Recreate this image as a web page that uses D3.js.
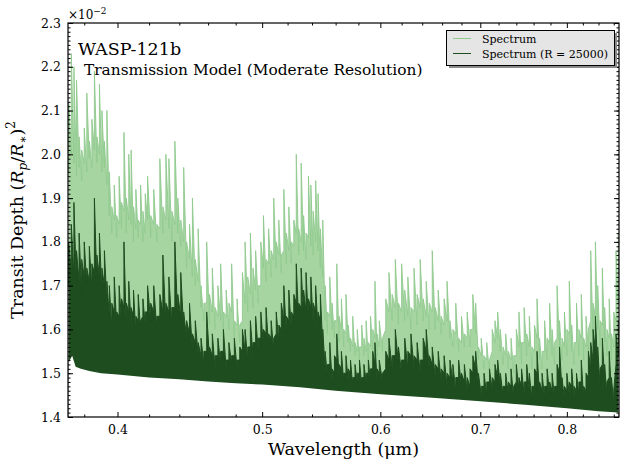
<!DOCTYPE html>
<html>
<head>
<meta charset="utf-8">
<script src="https://cdn.jsdelivr.net/npm/d3@7"></script>
<style>
  body { margin: 0; background: #fff; }
  svg { display: block; }
  text { font-family: "DejaVu Serif", serif; }
</style>
</head>
<body>
<svg id="chart" width="627" height="467"></svg>
<script>
// wavelength bins (nm)
var wl = [371,372.5,374,375.5,377,378.5,380,381.5,383,384.5,386,387.5,389,390.5,392,393.5,395,396.5,398,399.5,401,402.5,404,405.5,407,408.5,410,411.5,413,414.5,416,417.5,419,
  421,423,425,427,429,431,433,435,437,439,441,443,445,447,449,451,453,455,457,459,461,463,465,467,469,471,473,475,477,479,481,483,485,487,489,491,493,495,497,499,501,503,505,507,509,511,513,515,517,519,
  521,523,525,527,529,531,533,535,537,539,541,543,545,547,549,551,553,555,557,559,561,563,565,567,569,571,573,575,577,579,581,583,585,587,589,591,593,595,597,599,
  602,605,608,611,614,617,620,623,626,629,632,635,638,641,644,647,650,653,656,659,662,665,668,671,674,677,680,683,686,689,692,695,698,701,704,707,710,713,716,719,722,725,728,731,734,737,740,743,746,749,752,755,758,761,764,767,770,773,776,779,782,785,788,791,794,797,800,803,806,809,812,815,818,821,824,827,830,833,836,839,842,845,848,851,854,857,860,863,866];

// transit depth (x 1e-2), full spectrum: max in each bin
var spectrumMax = [2.12,2.23,2.20,2.17,2.04,2.01,2.06,2.14,
  2.03,2.08,2.19,2.04,2.16,2.10,2.03,2.10,
  1.96,1.88,1.93,1.86,1.95,1.89,2.05,1.90,2.00,2.01,1.88,1.92,1.85,1.93,1.87,1.91,1.95,
  1.86,1.92,1.84,1.99,1.88,2.00,1.99,1.87,2.03,1.90,1.85,1.97,1.80,1.84,1.90,1.76,1.83,
  1.70,1.66,1.80,1.68,1.74,1.65,1.70,1.75,1.64,1.69,1.66,1.75,1.62,1.67,1.61,1.73,
  1.80,1.72,1.82,1.74,1.78,1.70,1.80,1.86,1.76,1.83,1.78,1.90,1.80,1.85,1.77,1.92,1.82,
  1.88,1.80,1.85,2.00,1.83,1.98,1.86,1.82,1.95,1.93,1.87,1.94,1.91,1.83,1.85,
  1.70,1.64,1.72,1.66,1.62,1.75,1.63,1.67,1.60,1.68,1.61,1.58,1.63,1.57,1.60,1.56,1.61,1.58,1.62,1.57,1.63,1.60,1.71,1.59,1.62,
  1.58,1.67,1.73,1.68,1.76,1.66,1.75,1.69,1.72,1.65,1.74,1.68,1.76,1.67,1.71,1.66,1.78,1.65,1.69,1.63,1.67,1.71,1.62,
  1.60,1.66,1.58,1.63,1.59,1.64,1.60,1.68,1.66,1.56,1.58,1.54,1.57,1.53,1.60,1.62,1.64,1.60,
  1.56,1.59,1.55,1.58,1.54,1.60,1.64,1.57,1.65,1.59,1.63,1.56,1.61,1.67,1.58,1.55,1.62,1.58,1.66,1.60,
  1.57,1.70,1.62,1.58,1.64,1.60,1.71,1.61,1.57,1.66,1.60,1.68,1.58,1.63,1.60,1.78,1.66,1.80,1.70,1.62,
  1.74,1.65,1.60,1.67,1.59,1.64,1.78,1.82];

// full spectrum: min in each bin
var spectrumMin = [1.96,2.00,1.98,1.95,1.97,1.94,1.98,1.96,
  1.99,1.97,2.01,1.98,2.00,1.96,1.97,1.93,
  1.86,1.82,1.85,1.81,1.84,1.83,1.87,1.82,1.85,1.84,1.80,1.83,1.81,1.84,1.80,1.82,1.85,
  1.81,1.84,1.80,1.83,1.82,1.85,1.83,1.80,1.84,1.82,1.79,1.80,1.74,1.76,1.72,1.70,1.71,
  1.65,1.62,1.66,1.61,1.64,1.60,1.63,1.62,1.59,1.63,1.60,1.64,1.58,1.61,1.57,1.62,
  1.66,1.64,1.68,1.65,1.69,1.66,1.70,1.74,1.71,1.75,1.72,1.76,1.74,1.77,1.73,1.78,1.75,
  1.78,1.75,1.79,1.82,1.77,1.80,1.78,1.76,1.81,1.79,1.77,1.80,1.78,1.74,1.72,
  1.62,1.59,1.63,1.60,1.58,1.62,1.57,1.60,1.56,1.59,1.57,1.55,1.56,1.54,1.55,1.53,1.56,1.54,1.55,1.53,1.56,1.55,1.58,1.54,1.56,
  1.55,1.60,1.64,1.62,1.65,1.61,1.64,1.62,1.63,1.60,1.64,1.61,1.65,1.62,1.63,1.60,1.64,1.60,1.62,1.59,1.61,1.62,1.58,
  1.56,1.59,1.55,1.57,1.56,1.58,1.56,1.60,1.59,1.53,1.54,1.51,1.53,1.50,1.55,1.57,1.58,1.55,
  1.52,1.54,1.51,1.53,1.50,1.54,1.56,1.52,1.57,1.54,1.56,1.51,1.55,1.58,1.53,1.51,1.55,1.53,1.57,1.54,
  1.52,1.58,1.56,1.53,1.56,1.54,1.59,1.55,1.52,1.57,1.54,1.58,1.53,1.56,1.55,1.62,1.58,1.63,1.60,1.56,
  1.61,1.57,1.54,1.58,1.53,1.56,1.62,1.66];

// R = 25000 spectrum: max in each bin
var binnedMax = [1.80,1.84,1.89,1.78,1.82,1.76,1.80,1.74,
  1.79,1.75,1.90,1.77,1.82,1.74,1.78,1.71,
  1.70,1.66,1.72,1.64,1.70,1.67,1.80,1.66,1.71,1.65,1.69,1.63,1.68,1.62,1.67,1.64,1.70,
  1.66,1.70,1.63,1.68,1.77,1.66,1.72,1.65,1.80,1.68,1.73,1.64,1.62,1.66,1.59,1.62,1.57,
  1.58,1.55,1.64,1.56,1.59,1.54,1.58,1.55,1.60,1.53,1.57,1.54,1.58,1.53,1.56,1.60,
  1.60,1.56,1.62,1.57,1.63,1.58,1.64,1.60,1.65,1.59,1.62,1.58,1.64,1.61,1.66,1.70,1.63,
  1.69,1.64,1.68,1.75,1.66,1.74,1.69,1.73,1.67,1.72,1.66,1.70,1.64,1.68,1.60,
  1.55,1.52,1.57,1.51,1.54,1.59,1.52,1.55,1.50,1.54,1.51,1.53,1.49,1.52,1.50,1.53,1.49,1.52,1.50,1.53,1.51,1.55,1.57,1.51,1.53,
  1.50,1.55,1.58,1.54,1.60,1.56,1.53,1.58,1.55,1.59,1.54,1.57,1.53,1.58,1.60,1.54,1.56,1.52,1.55,1.51,1.54,1.50,1.53,
  1.52,1.49,1.53,1.50,1.52,1.49,1.51,1.54,1.55,1.50,1.47,1.50,1.48,1.51,1.49,1.52,1.53,1.50,
  1.47,1.50,1.48,1.51,1.47,1.52,1.49,1.51,1.48,1.52,1.50,1.47,1.51,1.55,1.48,1.50,1.47,1.51,1.48,1.50,
  1.47,1.52,1.56,1.49,1.47,1.50,1.48,1.51,1.47,1.50,1.48,1.53,1.47,1.50,1.55,1.57,1.60,1.63,1.56,1.51,
  1.58,1.52,1.48,1.55,1.49,1.46,1.59,1.62];

// R = 25000 spectrum: min in each bin
var binnedMin = [1.70,1.73,1.72,1.69,1.71,1.68,1.72,1.70,
  1.71,1.69,1.73,1.70,1.72,1.68,1.70,1.66,
  1.63,1.60,1.64,1.61,1.63,1.62,1.65,1.60,1.64,1.61,1.63,1.59,1.62,1.60,1.63,1.61,1.64,
  1.62,1.64,1.60,1.63,1.64,1.61,1.64,1.61,1.65,1.62,1.63,1.60,1.58,1.59,1.55,1.57,1.54,
  1.54,1.52,1.55,1.53,1.54,1.51,1.54,1.52,1.55,1.51,1.53,1.52,1.54,1.51,1.53,1.55,
  1.55,1.53,1.56,1.54,1.57,1.55,1.58,1.56,1.59,1.56,1.58,1.55,1.59,1.57,1.60,1.62,1.59,
  1.62,1.60,1.63,1.66,1.62,1.65,1.63,1.64,1.62,1.65,1.61,1.64,1.60,1.62,1.56,
  1.51,1.49,1.52,1.48,1.50,1.53,1.49,1.51,1.48,1.50,1.48,1.50,1.47,1.49,1.48,1.50,1.47,1.49,1.48,1.50,1.48,1.51,1.52,1.48,1.50,
  1.48,1.51,1.53,1.51,1.54,1.52,1.50,1.53,1.51,1.54,1.51,1.53,1.50,1.53,1.55,1.51,1.52,1.49,1.51,1.48,1.50,1.47,1.49,
  1.48,1.46,1.49,1.47,1.48,1.46,1.47,1.50,1.51,1.47,1.45,1.47,1.45,1.48,1.46,1.48,1.49,1.47,
  1.45,1.47,1.45,1.47,1.44,1.48,1.46,1.47,1.45,1.48,1.46,1.44,1.47,1.50,1.45,1.46,1.44,1.47,1.45,1.46,
  1.44,1.47,1.50,1.46,1.44,1.46,1.45,1.47,1.44,1.46,1.45,1.48,1.44,1.46,1.49,1.51,1.53,1.55,1.51,1.47,
  1.52,1.48,1.45,1.49,1.45,1.43,1.52,1.54];

// lower envelope (continuum) under both spectra
var floorWl  = [371,373,375,378,383,390,400,420,440,460,480,500,530,560,600,650,700,750,800,840,866];
var floorVal = [1.525,1.54,1.515,1.51,1.505,1.50,1.497,1.49,1.486,1.481,1.477,1.474,1.468,1.46,1.452,1.444,1.436,1.428,1.42,1.413,1.41];

var xTicks = [0.4, 0.5, 0.6, 0.7, 0.8];
var yTicks = [1.4, 1.5, 1.6, 1.7, 1.8, 1.9, 2.0, 2.1, 2.2, 2.3];

var lightFill = "#a6d5a2", lightLine = "#90ca8d", darkGreen = "#1e4d1f";

var margin = {top: 23, right: 8, bottom: 50, left: 68},
    width = 627 - margin.left - margin.right,
    height = 467 - margin.top - margin.bottom;

var svg = d3.select("#chart");
var g = svg.append("g").attr("transform", "translate(" + margin.left + "," + margin.top + ")");

var x = d3.scaleLog().domain([0.3706, 0.867]).range([0, width]);
var y = d3.scaleLinear().domain([1.4, 2.3]).range([height, 0]);

g.append("clipPath").attr("id", "plotclip")
  .append("rect").attr("width", width).attr("height", height);

var plot = g.append("g").attr("clip-path", "url(#plotclip)");

// each bin: rises from its min straight to its max, then falls to the next bin's min
function binPoints(lo, hi) {
  var pts = [];
  wl.forEach(function(w, i) {
    pts.push({w: w, v: lo[i]}, {w: w, v: hi[i]});
  });
  return pts;
}

var area = d3.area()
  .x(function(d) { return x(d.w / 1000); })
  .y0(height)
  .y1(function(d) { return y(d.v); });
var line = d3.line()
  .x(function(d) { return x(d.w / 1000); })
  .y(function(d) { return y(d.v); });

var full = binPoints(spectrumMin, spectrumMax);
var binned = binPoints(binnedMin, binnedMax);

plot.append("path").datum(full).attr("d", area).attr("fill", lightFill);
plot.append("path").datum(full).attr("d", line)
  .attr("fill", "none").attr("stroke", lightLine).attr("stroke-width", 0.9).attr("stroke-linejoin", "bevel");
plot.append("path").datum(binned).attr("d", area).attr("fill", darkGreen);
plot.append("path").datum(binned).attr("d", line)
  .attr("fill", "none").attr("stroke", darkGreen).attr("stroke-width", 1).attr("stroke-linejoin", "bevel");

// white below the continuum
var floor = floorWl.map(function(w, i) { return {w: w, v: floorVal[i]}; });
plot.append("path").datum(floor)
  .attr("d", d3.area().x(function(d) { return x(d.w / 1000); }).y0(height + 2).y1(function(d) { return y(d.v); }))
  .attr("fill", "#fff");

// ticks, inward on all four sides
var xMinor = d3.range(38, 87, 2).map(function(v) { return v / 100; })
  .filter(function(v) { return xTicks.indexOf(v) < 0; });
var yMinor = d3.range(140, 231).map(function(v) { return v / 100; });

function styleAxis(sel) {
  sel.select(".domain").remove();
  sel.attr("font-family", "DejaVu Serif").attr("font-size", 12.5);
  sel.selectAll("text").attr("fill", "#000");
}

g.append("g").attr("transform", "translate(0," + height + ")")
  .call(d3.axisBottom(x).tickValues(xTicks).tickFormat(d3.format(".1f")).tickSizeInner(-5).tickSizeOuter(0).tickPadding(8))
  .call(styleAxis);
g.append("g").attr("transform", "translate(0," + height + ")")
  .call(d3.axisBottom(x).tickValues(xMinor).tickFormat("").tickSizeInner(-2.5).tickSizeOuter(0))
  .call(styleAxis);
g.append("g")
  .call(d3.axisTop(x).tickValues(xTicks).tickFormat("").tickSizeInner(-5).tickSizeOuter(0))
  .call(styleAxis);
g.append("g")
  .call(d3.axisTop(x).tickValues(xMinor).tickFormat("").tickSizeInner(-2.5).tickSizeOuter(0))
  .call(styleAxis);

g.append("g")
  .call(d3.axisLeft(y).tickValues(yTicks).tickFormat(d3.format(".1f")).tickSizeInner(-5).tickSizeOuter(0).tickPadding(7))
  .call(styleAxis);
g.append("g")
  .call(d3.axisLeft(y).tickValues(yMinor).tickFormat("").tickSizeInner(-2.5).tickSizeOuter(0))
  .call(styleAxis);
g.append("g").attr("transform", "translate(" + width + ",0)")
  .call(d3.axisRight(y).tickValues(yTicks).tickFormat("").tickSizeInner(-5).tickSizeOuter(0))
  .call(styleAxis);
g.append("g").attr("transform", "translate(" + width + ",0)")
  .call(d3.axisRight(y).tickValues(yMinor).tickFormat("").tickSizeInner(-2.5).tickSizeOuter(0))
  .call(styleAxis);

g.append("rect").attr("width", width).attr("height", height)
  .attr("fill", "none").attr("stroke", "#000").attr("stroke-width", 1.2);

// offset text
var off = svg.append("text").attr("x", 68).attr("y", 19).attr("font-size", 12);
off.append("tspan").text("\u00d710");
off.append("tspan").attr("dy", -5).attr("font-size", 9).text("\u22122");

// titles inside the axes
svg.append("text").attr("x", 78).attr("y", 55).attr("font-size", 17.5).text("WASP-121b");
svg.append("text").attr("x", 84).attr("y", 75).attr("font-size", 15.4)
  .text("Transmission Model (Moderate Resolution)");

// axis labels
svg.append("text").attr("x", margin.left + width / 2).attr("y", 455)
  .attr("text-anchor", "middle").attr("font-size", 17.5).text("Wavelength (\u03bcm)");

var yl = svg.append("text").attr("transform", "translate(23," + (margin.top + height / 2) + ") rotate(-90)")
  .attr("text-anchor", "middle").attr("font-size", 17.5);
yl.append("tspan").text("Transit Depth (");
yl.append("tspan").attr("font-style", "italic").text("R");
yl.append("tspan").attr("font-style", "italic").attr("font-size", 12).attr("dy", 4).text("p");
yl.append("tspan").attr("dy", -4).text("/");
yl.append("tspan").attr("font-style", "italic").text("R");
yl.append("tspan").attr("font-size", 12).attr("dy", 4).text("\u2217");
yl.append("tspan").attr("dy", -4).text(")");
yl.append("tspan").attr("font-size", 12).attr("dy", -8).text("2");

// legend
var leg = svg.append("g");
leg.append("rect").attr("x", 449).attr("y", 33).attr("width", 168).attr("height", 35).attr("fill", "#8a8a8a");
leg.append("rect").attr("x", 446.5).attr("y", 30.5).attr("width", 168).attr("height", 35)
  .attr("fill", "#e5e5e5").attr("stroke", "#000").attr("stroke-width", 1);
var entries = [{label: "Spectrum", color: lightLine}, {label: "Spectrum (R = 25000)", color: darkGreen}];
entries.forEach(function(e, i) {
  var yy = 38.5 + i * 15;
  leg.append("line").attr("x1", 453).attr("x2", 471).attr("y1", yy).attr("y2", yy)
    .attr("stroke", e.color).attr("stroke-width", 1);
  leg.append("text").attr("x", 482).attr("y", yy + 4).attr("font-size", 11).text(e.label);
});
</script>
</body>
</html>
